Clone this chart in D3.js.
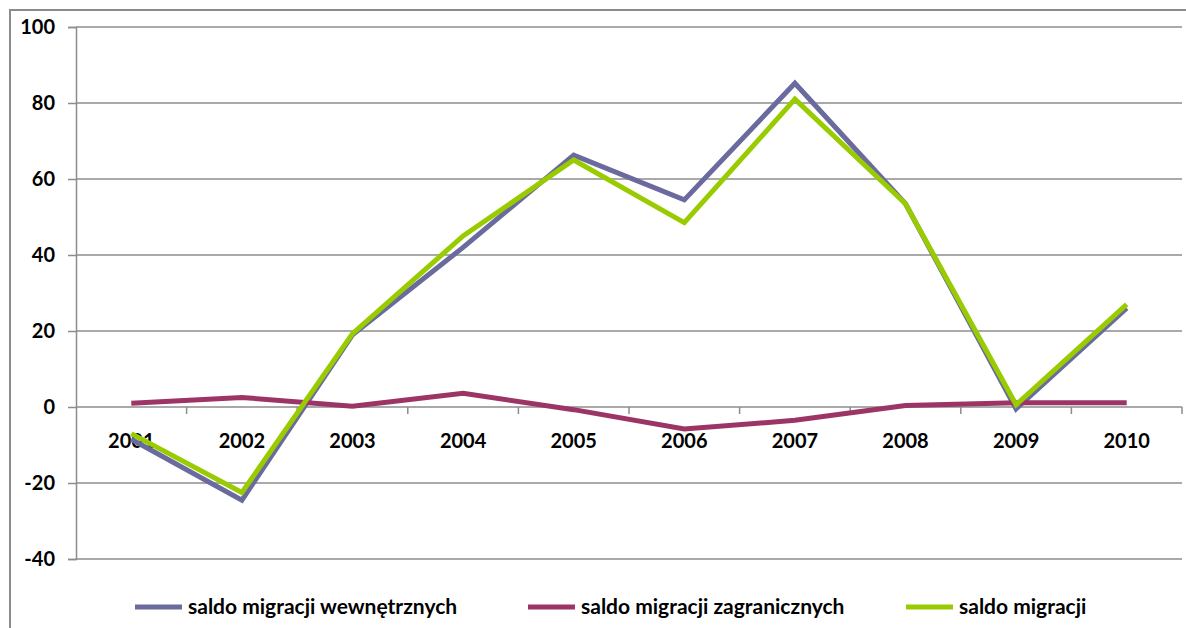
<!DOCTYPE html>
<html>
<head>
<meta charset="utf-8">
<script src="https://cdn.jsdelivr.net/npm/d3@7"></script>
<style>
  html, body { margin: 0; padding: 0; background: #fff; }
  svg { display: block; font-family: Lato, "Open Sans", sans-serif; font-weight: bold; }
</style>
</head>
<body>
<svg id="chart" width="1186" height="628"></svg>
<script>
const years = ["2001", "2002", "2003", "2004", "2005", "2006", "2007", "2008", "2009", "2010"];
const wewnetrzne = [-8.5, -24.5, 19, 42, 66.3, 54.5, 85.2, 53.5, -0.5, 26];
const zagraniczne = [1, 2.5, 0.2, 3.6, -0.7, -5.8, -3.5, 0.4, 1.1, 1.1];
const ogolem = [-7, -22.5, 19.3, 45, 65, 48.5, 81, 53.5, 0.6, 27];
const yTicks = [-40, -20, 0, 20, 40, 60, 80, 100];
const seriesNames = ["saldo migracji wewnętrznych", "saldo migracji zagranicznych", "saldo migracji"];
const seriesColors = ["#6a6a9e", "#9c3566", "#99cc00"];

const series = [wewnetrzne, zagraniczne, ogolem].map((vals, i) => ({
  name: seriesNames[i], color: seriesColors[i], values: vals
}));

const svg = d3.select("#chart");
const margin = { left: 76, right: 1182, top: 27, bottom: 559 };

// outer frame
svg.append("path")
  .attr("d", "M10,628 L10,10 L1186,10")
  .attr("fill", "none").attr("stroke", "#8c8c8c").attr("stroke-width", 2);

const x = d3.scaleBand().domain(years).range([margin.left, margin.right]);
const y = d3.scaleLinear().domain([-40, 100]).range([margin.bottom, margin.top]);

// gridlines
svg.append("g").selectAll("line").data(yTicks).join("line")
  .attr("x1", margin.left).attr("x2", margin.right)
  .attr("y1", d => y(d)).attr("y2", d => y(d))
  .attr("stroke", "#8c8c8c").attr("stroke-width", 1.5);

// y axis
const yAxis = svg.append("g").attr("transform", `translate(${margin.left},0)`)
  .call(d3.axisLeft(y).tickValues(yTicks).tickSize(8).tickPadding(13).tickFormat(d => String(d)));
yAxis.select(".domain").attr("stroke", "#8c8c8c").attr("stroke-width", 1.5);
yAxis.selectAll(".tick line").attr("stroke", "#8c8c8c").attr("stroke-width", 1.5);
yAxis.selectAll("text").attr("font-size", 20).attr("fill", "#000").attr("font-family", "Lato").attr("font-weight", "bold");

// x axis at zero
const xAxis = svg.append("g").attr("transform", `translate(0,${y(0)})`)
  .call(d3.axisBottom(x).tickSize(0).tickPadding(27));
xAxis.select(".domain").remove();
xAxis.selectAll("text").attr("font-size", 20).attr("fill", "#000").attr("font-family", "Lato").attr("font-weight", "bold");
const bounds = years.map(d => x(d)).concat([x(years[years.length - 1]) + x.bandwidth()]);
svg.append("g").selectAll("line").data(bounds.slice(1)).join("line")
  .attr("x1", d => d).attr("x2", d => d)
  .attr("y1", y(0)).attr("y2", y(0) + 7)
  .attr("stroke", "#8c8c8c").attr("stroke-width", 1.5);

// lines
const line = d3.line()
  .x((d, i) => x(years[i]) + x.bandwidth() / 2)
  .y(d => y(d));
svg.append("g").selectAll("path").data(series).join("path")
  .attr("d", d => line(d.values))
  .attr("fill", "none")
  .attr("stroke", d => d.color)
  .attr("stroke-width", 5)
  .attr("stroke-linejoin", "miter");

// legend
const legendX = [135, 528, 906];
const legend = svg.append("g").selectAll("g").data(series).join("g")
  .attr("transform", (d, i) => `translate(${legendX[i]},607)`);
legend.append("line")
  .attr("x1", 0).attr("x2", 47).attr("y1", 0).attr("y2", 0)
  .attr("stroke", d => d.color).attr("stroke-width", 5);
legend.append("text")
  .attr("x", 53).attr("dy", "0.35em")
  .attr("font-size", 21)
  .text(d => d.name);
</script>
</body>
</html>
